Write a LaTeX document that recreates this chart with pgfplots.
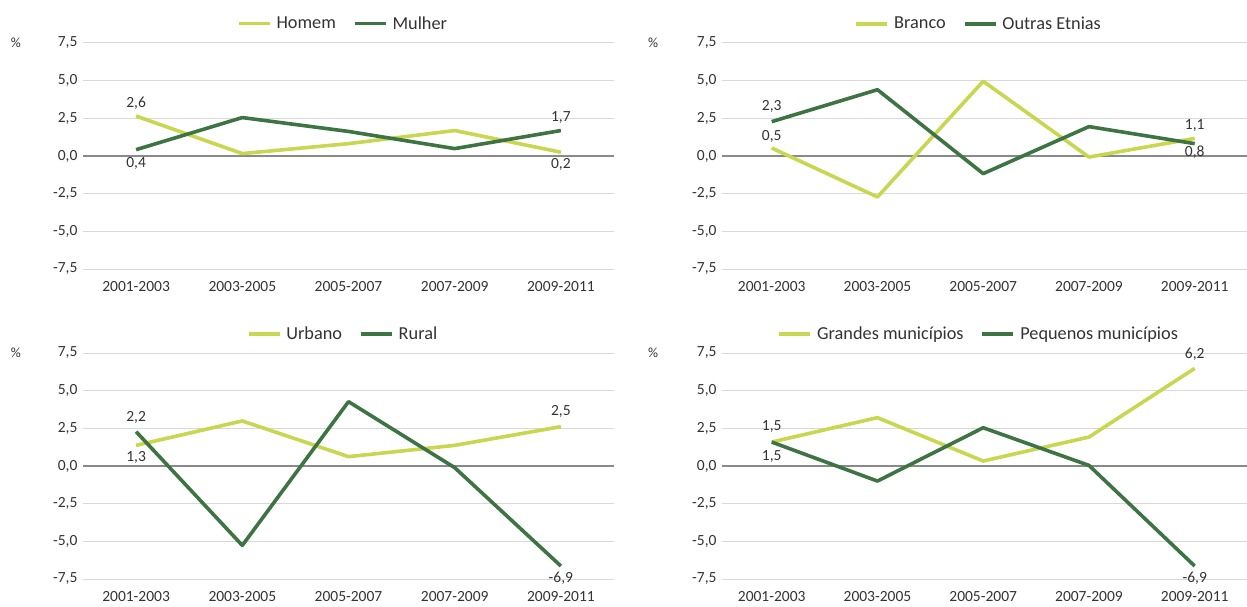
\documentclass[border=0pt]{standalone}
\usepackage{fontspec}
\setmainfont{Carlito}
\usepackage{pgfplots}
\pgfplotsset{compat=1.18}
\definecolor{lg}{HTML}{C8D650}
\definecolor{dg}{HTML}{3E7443}
\definecolor{txt}{HTML}{333333}
\definecolor{gridc}{HTML}{D9D9D9}
\definecolor{zeroc}{HTML}{898989}
\pgfplotsset{
 panel/.style={
  scale only axis, width=531pt, height=226pt,
  xmin=-0.5, xmax=4.5, ymin=-7.5, ymax=7.5,
  xtick={0,1,2,3,4},
  xticklabels={2001-2003,2003-2005,2005-2007,2007-2009,2009-2011},
  ytick={-7.5,-5,-2.5,0,2.5,5,7.5},
  ymajorgrids, grid style={draw=gridc, line width=1pt},
  extra y ticks={0}, extra y tick labels={},
  extra y tick style={grid style={draw=zeroc, line width=2pt}},
  axis line style={draw=none}, major tick length=0pt,
  tick label style={font=\fontsize{15.5}{18}\selectfont, text=txt},
  /pgf/number format/fixed, /pgf/number format/fixed zerofill,
  /pgf/number format/precision=1, /pgf/number format/use comma,
  /pgf/number format/assume math mode=true,
  yticklabel style={anchor=east, xshift=-2pt},
  xticklabel style={yshift=-9pt},
  clip=false,
  legend columns=2,
  legend style={at={(0.5,1)}, anchor=south, yshift=8pt, xshift=-4pt, draw=none, fill=none,
    font=\fontsize{18.3}{22}\selectfont, text=txt,
    nodes={inner xsep=5pt},
    /tikz/every even column/.append style={column sep=12pt}},
  legend image code/.code={\draw[##1] (0pt,0pt) -- (31pt,0pt);},
 },
 right panel/.style={width=524.5pt, xmin=-0.47, xmax=4.49},
 sa/.style={color=lg, line width=3.6pt, line join=round, mark=none},
 sb/.style={color=dg, line width=3.6pt, line join=round, mark=none},
}
\tikzset{lab/.style={font=\fontsize{15.5}{18}\selectfont, text=txt, inner sep=0pt},
 pct/.style={font=\fontsize{14}{16}\selectfont, text=txt, inner sep=0pt}}
\begin{document}
\begin{tikzpicture}
\useasboundingbox (0pt,0pt) rectangle (1247pt,606pt);
% Panel 1
\begin{axis}[panel, at={(83pt,337pt)}, anchor=south west]
\addplot[sa] coordinates {(0,2.65) (1,0.16) (2,0.82) (3,1.69) (4,0.25)};
\addlegendentry{Homem}
\addplot[sb] coordinates {(0,0.42) (1,2.55) (2,1.63) (3,0.49) (4,1.69)};
\addlegendentry{Mulher}
\node[lab] at (axis cs:0,3.50) {2,6};
\node[lab] at (axis cs:0,-0.48) {0,4};
\node[lab] at (axis cs:4,2.57) {1,7};
\node[lab] at (axis cs:4,-0.55) {0,2};
\end{axis}
% Panel 2
\begin{axis}[panel, right panel, at={(722pt,337pt)}, anchor=south west]
\addplot[sa] coordinates {(0,0.53) (1,-2.72) (2,4.96) (3,-0.07) (4,1.17)};
\addlegendentry{Branco}
\addplot[sb] coordinates {(0,2.28) (1,4.40) (2,-1.17) (3,1.95) (4,0.82)};
\addlegendentry{Outras Etnias}
\node[lab] at (axis cs:0,3.30) {2,3};
\node[lab] at (axis cs:0,1.31) {0,5};
\node[lab] at (axis cs:4,2.04) {1,1};
\node[lab] at (axis cs:4,0.23) {0,8};
\end{axis}
% Panel 3
\begin{axis}[panel, at={(83pt,27pt)}, anchor=south west]
\addplot[sa] coordinates {(0,1.37) (1,2.99) (2,0.62) (3,1.37) (4,2.61)};
\addlegendentry{Urbano}
\addplot[sb] coordinates {(0,2.28) (1,-5.27) (2,4.27) (3,-0.11) (4,-6.64)};
\addlegendentry{Rural}
\node[lab] at (axis cs:0,3.25) {2,2};
\node[lab] at (axis cs:0,0.60) {1,3};
\node[lab] at (axis cs:4,3.65) {2,5};
\node[lab] at (axis cs:4,-7.48) {-6,9};
\end{axis}
% Panel 4
\begin{axis}[panel, right panel, at={(722pt,27pt)}, anchor=south west]
\addplot[sa] coordinates {(0,1.59) (1,3.21) (2,0.33) (3,1.92) (4,6.48)};
\addlegendentry{Grandes municípios}
\addplot[sb] coordinates {(0,1.59) (1,-1.00) (2,2.54) (3,0.04) (4,-6.64)};
\addlegendentry{Pequenos municípios}
\node[lab] at (axis cs:0,2.59) {1,5};
\node[lab] at (axis cs:0,0.60) {1,5};
\node[lab] at (axis cs:4,7.41) {6,2};
\node[lab] at (axis cs:4,-7.48) {-6,9};
\end{axis}
\node[pct] at (16pt,563pt) {\%};
\node[pct] at (653pt,563pt) {\%};
\node[pct] at (16pt,253pt) {\%};
\node[pct] at (653pt,253pt) {\%};
\end{tikzpicture}
\end{document}
